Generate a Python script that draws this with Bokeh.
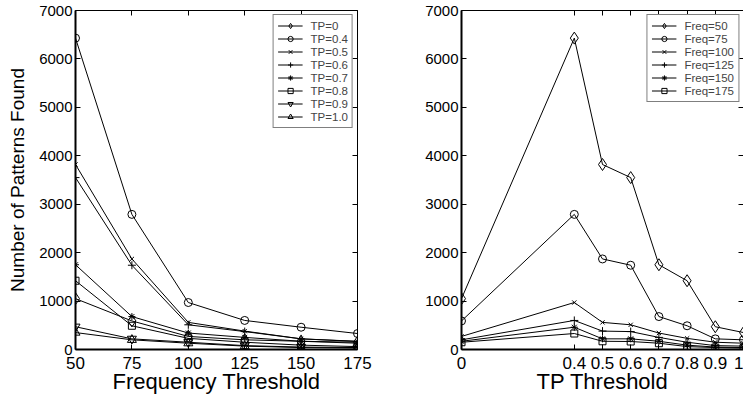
from bokeh.plotting import figure
from bokeh.models import LinearAxis, FixedTicker, Legend, LegendItem, Range1d
from bokeh.layouts import row
from bokeh.embed import file_html
from bokeh.resources import INLINE

# ---------------- data ----------------
freqs = [50, 75, 100, 125, 150, 175]
tp_values = [0, 0.4, 0.5, 0.6, 0.7, 0.8, 0.9, 1.0]
tp_tick_labels = ["0", "0.4", "0.5", "0.6", "0.7", "0.8", "0.9", "1"]
y_ticks = [0, 1000, 2000, 3000, 4000, 5000, 6000, 7000]

# patterns found, per TP threshold, across frequency thresholds
tp_0 = [1050, 590, 270, 200, 170, 150]
tp_04 = [6430, 2790, 970, 600, 460, 330]
tp_05 = [3820, 1870, 560, 380, 220, 170]
tp_06 = [3550, 1740, 510, 370, 220, 165]
tp_07 = [1750, 680, 340, 250, 170, 130]
tp_08 = [1420, 490, 230, 150, 90, 60]
tp_09 = [470, 220, 150, 80, 50, 40]
tp_10 = [350, 200, 130, 70, 40, 30]

tp_labels = ["TP=0", "TP=0.4", "TP=0.5", "TP=0.6", "TP=0.7", "TP=0.8", "TP=0.9", "TP=1.0"]
freq_labels = ["Freq=50", "Freq=75", "Freq=100", "Freq=125", "Freq=150", "Freq=175"]

tp_series = [tp_0, tp_04, tp_05, tp_06, tp_07, tp_08, tp_09, tp_10]
freq_series = [[s[j] for s in tp_series] for j in range(len(freqs))]

markers = ["diamond", "circle", "x", "cross", "asterisk", "square", "inverted_triangle", "triangle"]
msizes = [12, 8, 6, 8, 7, 7, 9, 9]

FONT = "Liberation Sans"


def make_fig(width, bl, br, x0, x1, xticks, xlabel, ylabel, overrides=None):
    p = figure(width=width, height=396, x_range=Range1d(x0, x1), y_range=Range1d(0, 7000),
               output_backend="svg", toolbar_location=None,
               min_border_left=bl, min_border_right=br, min_border_top=10, min_border_bottom=47,
               background_fill_color="white", border_fill_color="white", outline_line_color=None)
    p.xgrid.visible = False
    p.ygrid.visible = False
    bottom = p.below[0]
    left = p.left[0]
    top = LinearAxis()
    right = LinearAxis()
    p.add_layout(top, "above")
    p.add_layout(right, "right")
    for ax in (bottom, top):
        ax.ticker = FixedTicker(ticks=xticks)
    for ax in (left, right):
        ax.ticker = FixedTicker(ticks=y_ticks)
    for ax in (bottom, left, top, right):
        ax.major_tick_in = 5
        ax.major_tick_out = 0
        ax.minor_tick_line_color = None
        ax.major_tick_line_color = "black"
        ax.axis_line_color = "black"
        ax.major_label_text_color = "black"
        ax.major_label_text_font = FONT
        ax.axis_label_text_font = FONT
        ax.axis_label_text_font_style = "normal"
        ax.axis_label_text_color = "black"
    for ax in (top, right):
        ax.major_label_text_color = None
        ax.major_label_text_font_size = "1px"
        ax.major_label_standoff = 0
        ax.axis_line_width = 1
    bottom.axis_line_width = 2
    left.axis_line_width = 2
    bottom.major_label_text_font_size = "17px"
    bottom.major_label_standoff = 7
    bottom.axis_label = xlabel
    bottom.axis_label_text_font_size = "22px"
    bottom.axis_label_standoff = -3
    if overrides:
        bottom.major_label_overrides = overrides
    left.major_label_text_font_size = "15px"
    left.major_label_standoff = 3
    if ylabel:
        left.axis_label = ylabel
        left.axis_label_text_font_size = "19px"
        left.axis_label_standoff = 8
    return p


def add_series(p, xs, series, labels):
    items = []
    for i, (ys, lab) in enumerate(zip(series, labels)):
        l = p.line(xs, ys, line_color="black", line_width=1)
        s = p.scatter(xs, ys, marker=markers[i], size=msizes[i], line_color="black",
                      fill_color=None, line_width=1)
        items.append(LegendItem(label=lab, renderers=[l, s]))
    legend = Legend(items=items, location="top_right", margin=4, padding=4, spacing=0,
                    label_height=13, glyph_height=13, glyph_width=25, label_standoff=8,
                    label_text_font=FONT, label_text_font_size="11.5px",
                    border_line_color="black", border_line_width=1,
                    background_fill_color="white", background_fill_alpha=1)
    p.add_layout(legend)


p1 = make_fig(400, 75, 43, 50, 175, freqs, "Frequency Threshold", "Number of Patterns Found")
add_series(p1, freqs, tp_series, tp_labels)

overrides = {float(v): t for v, t in zip(tp_values, tp_tick_labels)}
p2 = make_fig(343, 61, 0, 0, 1, tp_values, "TP Threshold", None, overrides)
add_series(p2, tp_values, freq_series, freq_labels)

layout = row(p1, p2)
open("out.html", "w").write(file_html(layout, INLINE))
